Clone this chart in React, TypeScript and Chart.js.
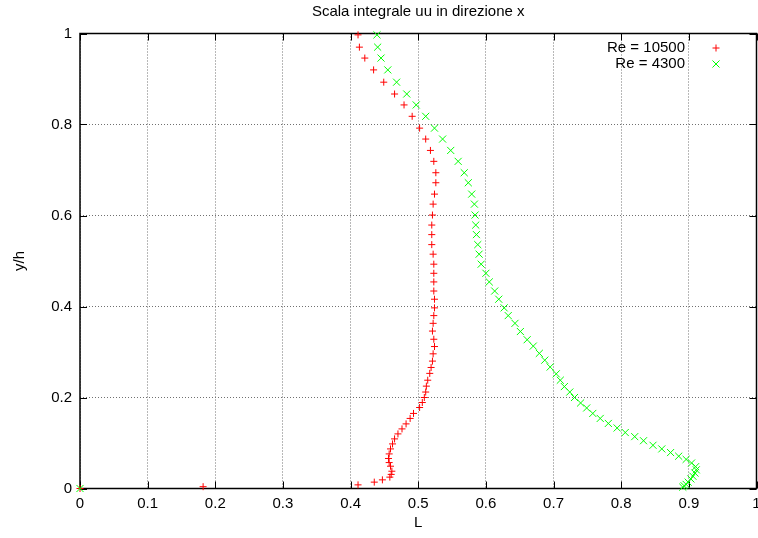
import React, { useEffect, useRef } from 'react';
import { Chart, registerables } from 'chart.js';
import { drawPoint } from 'chart.js/helpers';

Chart.register(...registerables);

const FONT = '"Liberation Sans", Arial, Helvetica, sans-serif';

const chartTitle = 'Scala integrale uu in direzione x';
const xTitle = 'L';
const yTitle = 'y/h';

const xTickLabels = ['0', '0.1', '0.2', '0.3', '0.4', '0.5', '0.6', '0.7', '0.8', '0.9', '1'];
const yTickLabels = ['0', '0.2', '0.4', '0.6', '0.8', '1'];

const seriesLabels = ['Re = 10500', 'Re = 4300'];

// Re = 10500 profile
const re10500L = [
  0.411, 0.413, 0.421, 0.434, 0.449, 0.465, 0.479, 0.491, 0.502, 0.511,
  0.518, 0.523, 0.526, 0.526, 0.524, 0.522, 0.521, 0.520, 0.520, 0.520,
  0.522, 0.523, 0.523, 0.523, 0.523, 0.524, 0.524, 0.523, 0.522, 0.521,
  0.523, 0.524, 0.522, 0.521, 0.519, 0.517, 0.514, 0.512, 0.511, 0.509,
  0.506, 0.502, 0.493, 0.488, 0.482, 0.476, 0.470, 0.465, 0.462, 0.459,
  0.457, 0.456, 0.457, 0.459, 0.461, 0.460, 0.458, 0.447, 0.435, 0.411,
  0.182, 0,
];
const re10500Y = [
  0.997, 0.970, 0.946, 0.920, 0.893, 0.867, 0.843, 0.818, 0.792, 0.768,
  0.743, 0.719, 0.694, 0.672, 0.647, 0.625, 0.601, 0.579, 0.558, 0.536,
  0.515, 0.493, 0.473, 0.454, 0.434, 0.416, 0.397, 0.380, 0.363, 0.346,
  0.328, 0.312, 0.296, 0.280, 0.266, 0.253, 0.238, 0.225, 0.212, 0.200,
  0.189, 0.178, 0.165, 0.154, 0.142, 0.131, 0.120, 0.109, 0.098, 0.087,
  0.076, 0.066, 0.057, 0.049, 0.038, 0.031, 0.025, 0.019, 0.014, 0.008,
  0.004, 0,
];

// Re = 4300 profile
const re4300L = [
  0.439, 0.440, 0.445, 0.455, 0.468, 0.483, 0.497, 0.511, 0.524, 0.536,
  0.548, 0.559, 0.568, 0.574, 0.579, 0.583, 0.584, 0.585, 0.586, 0.588,
  0.590, 0.593, 0.600, 0.605, 0.613, 0.619, 0.627, 0.633, 0.643, 0.651,
  0.661, 0.670, 0.679, 0.687, 0.695, 0.704, 0.710, 0.716, 0.724, 0.731,
  0.740, 0.749, 0.758, 0.769, 0.781, 0.794, 0.806, 0.820, 0.833, 0.847,
  0.860, 0.873, 0.885, 0.896, 0.904, 0.910, 0.911, 0.909, 0.906, 0.903,
  0.899, 0.896, 0.893, 0.891, 0,
];
const re4300Y = [
  0.997, 0.970, 0.946, 0.920, 0.893, 0.867, 0.843, 0.818, 0.792, 0.768,
  0.743, 0.719, 0.694, 0.672, 0.647, 0.625, 0.601, 0.579, 0.558, 0.536,
  0.515, 0.493, 0.473, 0.454, 0.434, 0.416, 0.397, 0.380, 0.363, 0.345,
  0.327, 0.313, 0.297, 0.282, 0.267, 0.252, 0.238, 0.224, 0.212, 0.200,
  0.188, 0.177, 0.165, 0.154, 0.143, 0.133, 0.123, 0.114, 0.105, 0.095,
  0.087, 0.079, 0.071, 0.064, 0.056, 0.048, 0.041, 0.034, 0.027, 0.021,
  0.014, 0.009, 0.006, 0.003, 0,
];

const toPoints = (xs: number[], ys: number[]) => xs.map((x, i) => ({ x, y: ys[i] }));

// Solid border box with short inward tick marks on all four sides
const framePlugin = {
  id: 'frameBox',
  beforeDatasetsDraw(chart: any) {
    const { ctx, chartArea: a, scales } = chart;
    const len = 7;
    ctx.save();
    ctx.strokeStyle = '#000';
    ctx.lineWidth = 1;
    ctx.beginPath();
    scales.x.ticks.forEach((t: any) => {
      const px = Math.round(scales.x.getPixelForValue(t.value)) + 0.5;
      ctx.moveTo(px, a.bottom);
      ctx.lineTo(px, a.bottom - len);
      ctx.moveTo(px, a.top);
      ctx.lineTo(px, a.top + len);
    });
    scales.y.ticks.forEach((t: any) => {
      const py = Math.round(scales.y.getPixelForValue(t.value)) + 0.5;
      ctx.moveTo(a.left, py);
      ctx.lineTo(a.left + len, py);
      ctx.moveTo(a.right, py);
      ctx.lineTo(a.right - len, py);
    });
    ctx.stroke();
    ctx.lineWidth = 1.5;
    ctx.strokeRect(a.left, a.top, a.right - a.left, a.bottom - a.top);
    ctx.restore();
  },
};

// Key in the upper right corner: right-aligned label followed by the marker
const keyPlugin = {
  id: 'cornerKey',
  afterDatasetsDraw(chart: any) {
    const { ctx, chartArea: a } = chart;
    ctx.save();
    ctx.font = `15px ${FONT}`;
    ctx.fillStyle = '#000';
    ctx.textAlign = 'right';
    ctx.textBaseline = 'middle';
    chart.data.datasets.forEach((ds: any, i: number) => {
      const y = a.top + 14.5 + i * 16;
      ctx.fillText(ds.label, a.right - 71.5, y);
      ctx.strokeStyle = ds.borderColor;
      ctx.lineWidth = 1;
      drawPoint(
        ctx,
        { pointStyle: ds.pointStyle, radius: ds.pointRadius, borderWidth: 1, rotation: 0 } as any,
        a.right - 40.5,
        y
      );
    });
    ctx.restore();
  },
};

export default function App() {
  const canvasRef = useRef<HTMLCanvasElement | null>(null);

  useEffect(() => {
    const canvas = canvasRef.current;
    if (!canvas) return;

    const chart = new Chart(canvas, {
      type: 'scatter',
      data: {
        datasets: [
          {
            label: seriesLabels[0],
            data: toPoints(re10500L, re10500Y),
            pointStyle: 'cross',
            pointRadius: 3.5,
            pointBorderWidth: 1,
            borderColor: '#ff0000',
            backgroundColor: '#ff0000',
            showLine: false,
            clip: false,
            order: 1,
          },
          {
            label: seriesLabels[1],
            data: toPoints(re4300L, re4300Y),
            pointStyle: 'crossRot',
            pointRadius: 5,
            pointBorderWidth: 1,
            borderColor: '#00ff00',
            backgroundColor: '#00ff00',
            showLine: false,
            clip: false,
            order: 0,
          },
        ] as any,
      },
      options: {
        animation: false,
        responsive: false,
        events: [],
        layout: { padding: { left: 0, right: 13.5, top: 0, bottom: 0 } },
        plugins: {
          legend: { display: false },
          tooltip: { enabled: false },
          title: {
            display: true,
            text: chartTitle,
            fullSize: false,
            color: '#000',
            font: { family: FONT, size: 15, weight: 'normal' },
            padding: { top: 3, bottom: 12.5 },
          },
        },
        scales: {
          x: {
            type: 'linear',
            min: 0,
            max: 1,
            afterFit: (s: any) => {
              s.height = 49.5;
            },
            ticks: {
              stepSize: 0.1,
              padding: 6,
              color: '#000',
              font: { family: FONT, size: 15 },
              maxRotation: 0,
              autoSkip: false,
              callback: (_v: any, i: number) => xTickLabels[i],
            },
            grid: { color: '#707070', lineWidth: 1, drawTicks: false },
            border: { display: false, dash: [1, 2] },
            title: {
              display: true,
              text: xTitle,
              color: '#000',
              font: { family: FONT, size: 15 },
              padding: { top: 0, bottom: 6 },
            },
          },
          y: {
            type: 'linear',
            min: 0,
            max: 1,
            afterFit: (s: any) => {
              s.width = 80;
            },
            ticks: {
              stepSize: 0.2,
              padding: 8,
              color: '#000',
              font: { family: FONT, size: 15 },
              autoSkip: false,
              callback: (_v: any, i: number) => yTickLabels[i],
            },
            grid: { color: '#707070', lineWidth: 1, drawTicks: false },
            border: { display: false, dash: [1, 2] },
            title: {
              display: true,
              text: yTitle,
              color: '#000',
              font: { family: FONT, size: 15 },
              padding: { top: 11, bottom: 0 },
            },
          },
        },
      } as any,
      plugins: [framePlugin, keyPlugin],
    });

    return () => chart.destroy();
  }, []);

  return (
    <div
      style={{
        position: 'fixed',
        left: 0,
        top: 0,
        width: 758,
        height: 538,
        overflow: 'hidden',
        background: '#fff',
      }}
    >
      <canvas ref={canvasRef} width={770} height={538} style={{ display: 'block' }} />
    </div>
  );
}
